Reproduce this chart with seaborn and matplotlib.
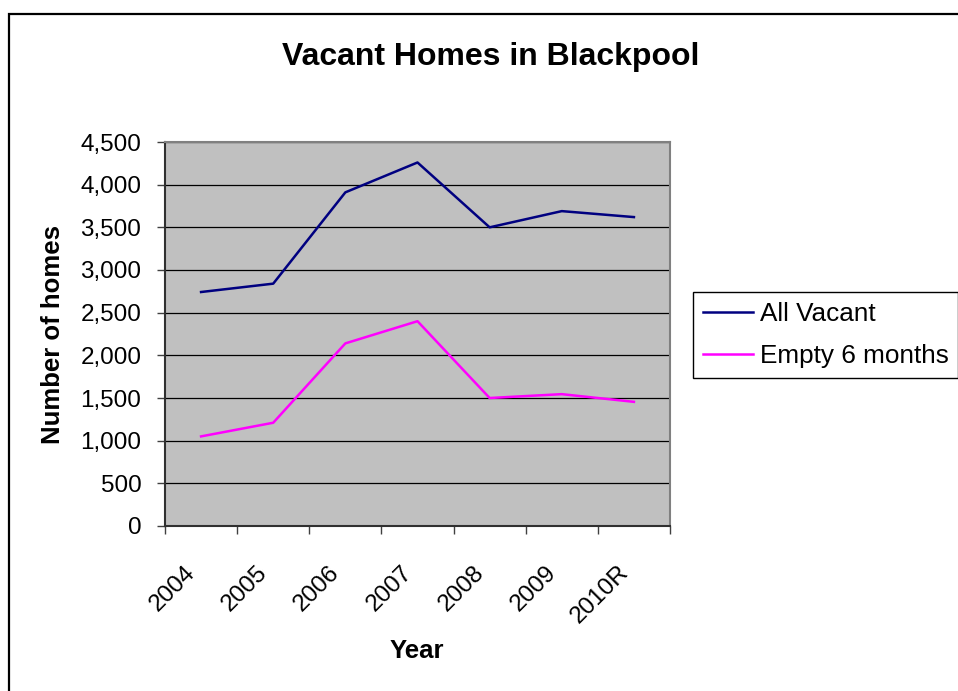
import matplotlib
matplotlib.use("Agg")
import matplotlib.pyplot as plt
from matplotlib.patches import Rectangle
from matplotlib.ticker import FixedLocator, StrMethodFormatter, MultipleLocator
from matplotlib.transforms import ScaledTranslation
import pandas as pd
import seaborn as sns

# Vacant dwellings in Blackpool by year
years = ["2004", "2005", "2006", "2007", "2008", "2009", "2010R"]
all_vacant = [2742, 2840, 3910, 4260, 3500, 3690, 3620]
empty_6_months = [1050, 1210, 2140, 2400, 1500, 1545, 1455]
series_names = ["All Vacant", "Empty 6 months"]
series_colors = {"All Vacant": "#000080", "Empty 6 months": "#FF00FF"}

df = pd.concat([
    pd.DataFrame({"Year": years, "Homes": all_vacant, "Series": series_names[0]}),
    pd.DataFrame({"Year": years, "Homes": empty_6_months, "Series": series_names[1]}),
], ignore_index=True)

plt.rcParams["font.family"] = ["Liberation Sans", "DejaVu Sans"]

W, H, DPI = 958, 691, 100
fig = plt.figure(figsize=(W / DPI, H / DPI), dpi=DPI, facecolor="white")

# plot area in pixel bounds
left, right, top, bottom = 165, 670, 142, 526
ax = fig.add_axes([left / W, 1 - bottom / H, (right - left) / W, (bottom - top) / H])
ax.set_facecolor("#C0C0C0")

sns.lineplot(data=df, x="Year", y="Homes", hue="Series", palette=series_colors,
             hue_order=series_names, sort=False, errorbar=None,
             linewidth=1.8, ax=ax)

ax.set_xlim(-0.5, len(years) - 0.5)
ax.set_ylim(0, 4500)
ax.yaxis.set_major_locator(MultipleLocator(500))
ax.yaxis.set_major_formatter(StrMethodFormatter("{x:,.0f}"))

# horizontal gridlines
ax.yaxis.grid(True, color="black", linewidth=0.9)
ax.xaxis.grid(False)
ax.set_axisbelow(True)

# category labels at centres, tick marks at category boundaries
ax.xaxis.set_major_locator(FixedLocator(range(len(years))))
ax.set_xticklabels(years)
ax.xaxis.set_minor_locator(FixedLocator([i - 0.5 for i in range(len(years) + 1)]))
ax.tick_params(axis="x", which="major", length=0, pad=31, labelsize=17.5)
ax.tick_params(axis="x", which="minor", length=6, width=1, color="#404040", direction="out")
ax.tick_params(axis="y", which="major", length=6, width=1, color="#404040",
               direction="out", pad=11, labelsize=17.5)
shift = ScaledTranslation(-9 / DPI, 0, fig.dpi_scale_trans)
for lbl in ax.get_xticklabels():
    lbl.set_rotation(45)
    lbl.set_rotation_mode("anchor")
    lbl.set_ha("right")
    lbl.set_va("center")
    lbl.set_transform(lbl.get_transform() + shift)

for side in ("left", "bottom"):
    ax.spines[side].set_color("#303030")
    ax.spines[side].set_linewidth(1.5)
for side in ("top", "right"):
    ax.spines[side].set_color("#808080")
    ax.spines[side].set_linewidth(1.5)

ax.set_xlabel("")
ax.set_ylabel("")

# titles
fig.text(491 / W, 1 - 57 / H, "Vacant Homes in Blackpool", ha="center", va="center",
         fontsize=23, fontweight="bold")
fig.text(53 / W, 1 - 335 / H, "Number of homes", ha="center", va="center",
         rotation=90, fontsize=18.5, fontweight="bold")
fig.text(417 / W, 1 - 651 / H, "Year", ha="center", va="center",
         fontsize=18.5, fontweight="bold")

# legend
handles, labels = ax.get_legend_handles_labels()
leg = ax.legend(handles, labels, loc="upper left",
                bbox_to_anchor=(693 / W, 1 - 292 / H), bbox_transform=fig.transFigure,
                fontsize=18.8, frameon=True, fancybox=False, framealpha=1,
                edgecolor="black", borderpad=0.38, labelspacing=0.68,
                handlelength=1.92, handletextpad=0.25, borderaxespad=0)
leg.get_frame().set_linewidth(1.0)
for line in leg.get_lines():
    line.set_linewidth(1.8)

# chart border
fig.add_artist(Rectangle((9 / W, -0.1), 2.0, (1 - 14 / H) + 0.1,
                         transform=fig.transFigure, fill=False,
                         edgecolor="black", linewidth=1.6, clip_on=False))

fig.savefig("out.png", dpi=DPI)
